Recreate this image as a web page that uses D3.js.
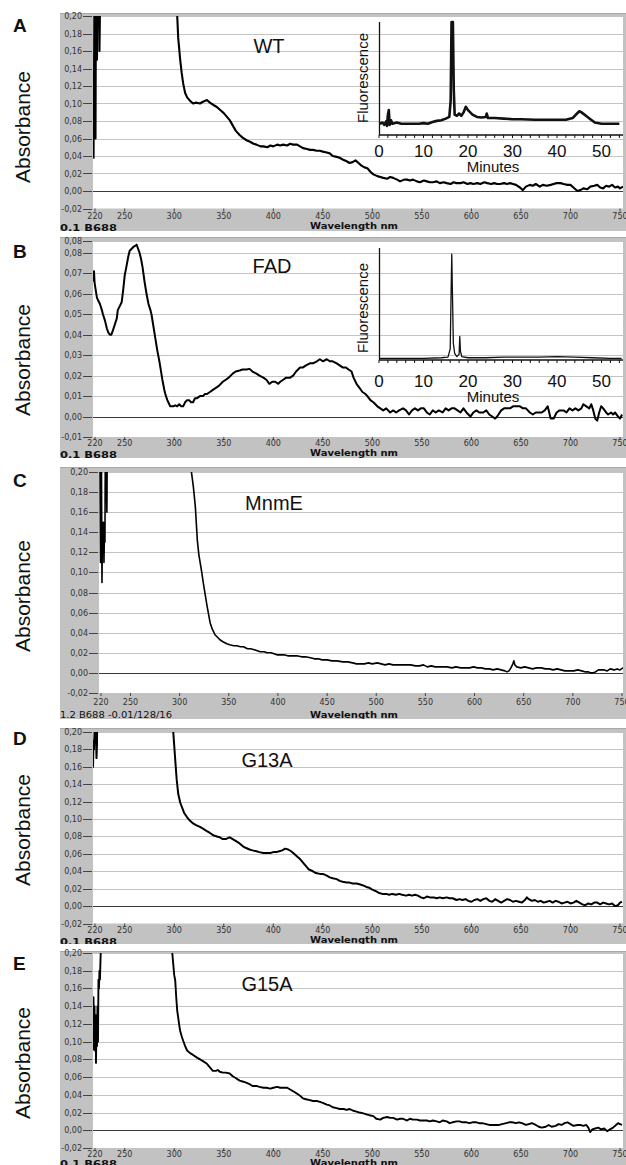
<!DOCTYPE html>
<html lang="en">
<head>
<meta charset="UTF-8">
<title>Absorbance spectra</title>
<script src="https://d3js.org/d3.v7.min.js"></script>
<style>
    body{ margin:0; background:#fff; }
    svg text{ font-family:"Liberation Sans", Arial, sans-serif; }
    .tick-lbl{ font-family:"DejaVu Sans", sans-serif !important; font-size:8px; fill:#333; }
    .foot{ font-family:"DejaVu Sans", sans-serif !important; font-size:8.5px; fill:#111; }
    path.spec{ fill:none; stroke:#000; stroke-linejoin:round; }
    path.hplc{ fill:none; stroke:#111; stroke-linejoin:round; }
</style>
</head>
<body>
<svg width="626" height="1165"></svg>
<script>
// ---- data (wavelength nm, absorbance) ----
const wtSpectrum = [[218.5,0.037],[219,0.12],[219.5,0.25],[220.5,0.06],[221,0.25],[222,0.15],[222.5,0.25],[224,0.25],[224.5,0.16],[225.5,0.25],
 [230,0.3],[260,0.4],[290,0.35],[302,0.22],[303,0.20],[304,0.175],[306,0.15],[307.5,0.135],[309,0.123],[311,0.112],[313,0.107],[316,0.103],[319,0.100],[322,0.101],[326,0.100],[329,0.102],[333,0.104],[336,0.101],[340,0.098],[343,0.096],[347,0.092],[350,0.089],[353,0.085],[356,0.081],[359,0.075],[362,0.069],[366,0.064],[369,0.061],[373,0.058],[377,0.056],[380,0.054],[383,0.053],[387,0.051],[390,0.051],[394,0.050],[397,0.052],[400,0.051],[404,0.053],[407,0.052],[410,0.053],[414,0.052],[417,0.054],[420,0.053],[424,0.053],[427,0.051],[430,0.049],[434,0.048],[437,0.047],[440,0.047],[444,0.046],[447,0.046],[450,0.045],[454,0.044],[457,0.043],[460,0.040],[464,0.039],[467,0.038],[470,0.036],[474,0.034],[477,0.032],[480,0.033],[483,0.035],[486,0.032],[489,0.029],[492,0.027],[495,0.026],[498,0.022],[501,0.019],[505,0.017],[508,0.016],[511,0.015],[515,0.014],[518,0.016],[521,0.015],[525,0.013],[528,0.011],[532,0.013],[535,0.013],[538,0.012],[541,0.013],[545,0.011],[548,0.010],[552,0.012],[555,0.011],[558,0.010],[561,0.010],[565,0.011],[568,0.009],[572,0.010],[575,0.009],[579,0.008],[582,0.010],[585,0.009],[589,0.009],[592,0.010],[596,0.008],[599,0.009],[602,0.008],[606,0.009],[609,0.008],[613,0.010],[616,0.009],[620,0.008],[623,0.009],[626,0.008],[629,0.008],[633,0.009],[636,0.008],[639,0.009],[642,0.008],[645,0.007],[649,0.004],[652,0.001],[655,0.005],[659,0.007],[662,0.006],[665,0.008],[669,0.005],[672,0.007],[676,0.006],[680,0.007],[683,0.008],[686,0.009],[690,0.009],[693,0.008],[697,0.007],[700,0.007],[703,0.004],[707,0.000],[710,0.001],[713,0.003],[717,0.002],[720,0.005],[724,0.006],[727,0.007],[730,0.004],[733,0.003],[736,0.006],[739,0.005],[742,0.007],[745,0.004],[748,0.005],[750,0.003],[753,0.005]];

const fadSpectrum = [[218,0.066],[219,0.071],[219.5,0.066],[220,0.064],[222,0.058],[224,0.056],[225,0.055],[227,0.052],[228,0.050],[230,0.047],[232,0.043],[233.5,0.041],[235,0.040],[236.5,0.040],[238,0.042],[240,0.045],[242,0.048],[243,0.052],[245,0.054],[247,0.056],[248.5,0.062],[250,0.069],[252,0.074],[253.5,0.078],[255,0.081],[257,0.082],[259,0.083],[261,0.0835],[262,0.084],[263.5,0.082],[265,0.080],[266.5,0.077],[268,0.073],[270,0.066],[272,0.060],[274,0.055],[276,0.052],[277,0.050],[279,0.044],[281,0.038],[283,0.032],[285,0.027],[286,0.024],[288,0.018],[290,0.013],[291,0.011],[293,0.008],[295,0.006],[296,0.005],[299,0.005],[301,0.0055],[303,0.005],[305,0.006],[307,0.005],[309,0.005],[311,0.007],[313,0.008],[315,0.008],[317,0.007],[319,0.007],[321,0.009],[323,0.009],[326,0.010],[329,0.010],[331,0.011],[333,0.011],[336,0.012],[339,0.013],[342,0.014],[345,0.015],[349,0.017],[352,0.018],[355,0.019],[359,0.021],[362,0.022],[366,0.0225],[369,0.023],[373,0.023],[376,0.0233],[379,0.022],[383,0.021],[386,0.020],[390,0.019],[393,0.018],[396,0.016],[399,0.017],[402,0.017],[405,0.016],[407,0.017],[410,0.018],[413,0.019],[417,0.019],[420,0.020],[423,0.022],[427,0.024],[430,0.024],[433,0.025],[437,0.026],[440,0.026],[444,0.027],[447,0.028],[450,0.027],[454,0.028],[457,0.027],[460,0.027],[464,0.026],[467,0.025],[470,0.024],[473,0.024],[476,0.023],[479,0.022],[481,0.019],[484,0.016],[487,0.014],[490,0.012],[493,0.011],[495,0.010],[498,0.008],[501,0.007],[505,0.005],[508,0.004],[511,0.003],[514,0.004],[518,0.002],[521,0.003],[524,0.002],[527,0.003],[531,0.004],[534,0.003],[537,0.001],[540,0.003],[543,0.004],[546,0.003],[549,0.004],[552,0.004],[555,0.002],[558,0.001],[561,0.003],[564,0.002],[567,0.003],[571,0.002],[574,0.004],[577,0.003],[580,0.004],[583,0.004],[586,0.003],[589,0.002],[592,0.004],[595,0.002],[599,0.000],[602,0.002],[605,0.003],[608,0.002],[612,0.002],[615,0.003],[618,0.001],[621,0.000],[624,-0.001],[626,0.000],[630,0.003],[633,0.004],[636,0.004],[639,0.004],[642,0.005],[646,0.005],[649,0.005],[652,0.004],[655,0.004],[659,0.002],[662,0.001],[665,0.002],[668,0.002],[671,0.002],[674,0.003],[677,0.005],[680,-0.001],[683,-0.001],[686,0.002],[689,0.003],[693,0.003],[696,0.002],[699,0.004],[702,0.003],[705,0.004],[708,0.003],[711,0.004],[713,0.006],[716,0.005],[719,0.004],[721,0.006],[723,0.003],[725,-0.001],[727,-0.002],[729,0.002],[731,0.005],[733,0.004],[736,0.002],[738,0.001],[741,0.002],[743,0.001],[745,0.002],[748,0.000],[750,-0.001],[752,0.001]];

const mnmeSpectrum = [[218,0.25],[219,0.20],[219.5,0.11],[220,0.13],[220.5,0.20],[221,0.09],[221.5,0.15],[222,0.12],[222.5,0.15],[223,0.11],[223.5,0.14],[224,0.13],[224.5,0.25],[226,0.16],[226.5,0.25],[230,0.3],[300,0.4],[310,0.25],[312,0.20],[314,0.185],[316,0.165],[318,0.132],[319.5,0.118],[321,0.109],[322.5,0.100],[324,0.090],[326,0.078],[328,0.066],[329.5,0.058],[331,0.050],[333,0.044],[336,0.038],[339,0.035],[341,0.033],[344,0.031],[348,0.029],[351,0.028],[355,0.027],[358,0.027],[362,0.026],[365,0.026],[369,0.024],[372,0.024],[376,0.023],[379,0.022],[382,0.021],[386,0.021],[389,0.020],[393,0.020],[396,0.019],[399,0.018],[403,0.018],[406,0.018],[410,0.017],[415,0.017],[419,0.017],[424,0.016],[428,0.016],[433,0.015],[437,0.014],[441,0.014],[445,0.013],[450,0.013],[455,0.012],[460,0.012],[466,0.011],[471,0.011],[476,0.010],[480,0.009],[484,0.009],[488,0.009],[492,0.010],[496,0.009],[501,0.010],[505,0.009],[509,0.008],[513,0.009],[517,0.008],[521,0.008],[525,0.008],[530,0.008],[535,0.008],[540,0.007],[544,0.007],[548,0.008],[552,0.006],[556,0.007],[560,0.006],[564,0.006],[568,0.006],[572,0.006],[577,0.005],[581,0.006],[586,0.005],[590,0.005],[595,0.005],[599,0.006],[603,0.005],[607,0.005],[611,0.004],[615,0.004],[619,0.003],[623,0.004],[627,0.003],[631,0.002],[633,0.001],[635,0.002],[637,0.005],[639,0.009],[640,0.012],[641,0.008],[643,0.006],[647,0.005],[651,0.006],[655,0.005],[659,0.004],[663,0.005],[668,0.005],[672,0.004],[676,0.004],[680,0.003],[684,0.004],[688,0.003],[692,0.002],[697,0.002],[701,0.002],[705,0.003],[709,0.002],[713,0.001],[716,0.001],[718,0.000],[720,0.000],[723,0.001],[726,0.003],[729,0.003],[732,0.003],[735,0.002],[738,0.004],[742,0.003],[745,0.004],[748,0.003],[751,0.005],[753,0.006]];

const g13aSpectrum = [[218,0.159],[218.5,0.19],[219,0.18],[219.5,0.20],[220,0.19],[221,0.20],[221.5,0.17],[222,0.185],[222.5,0.25],[226,0.3],[290,0.4],[297,0.25],[299,0.20],[301,0.168],[302.5,0.145],[304,0.129],[306,0.119],[308,0.113],[310,0.107],[313,0.102],[316,0.098],[319,0.095],[322,0.093],[326,0.091],[329,0.089],[333,0.086],[336,0.084],[340,0.081],[343,0.080],[346,0.079],[349,0.077],[352,0.077],[354,0.078],[356,0.079],[359,0.077],[362,0.075],[366,0.072],[369,0.069],[372,0.067],[376,0.065],[379,0.064],[383,0.063],[386,0.062],[390,0.061],[393,0.061],[397,0.061],[400,0.062],[403,0.062],[406,0.063],[409,0.064],[412,0.066],[415,0.065],[418,0.063],[421,0.060],[424,0.057],[427,0.054],[430,0.050],[433,0.046],[436,0.042],[440,0.040],[443,0.038],[447,0.037],[450,0.037],[454,0.035],[457,0.033],[460,0.032],[464,0.031],[467,0.029],[470,0.028],[474,0.027],[477,0.027],[480,0.026],[484,0.026],[487,0.025],[490,0.024],[494,0.022],[497,0.021],[500,0.019],[504,0.017],[507,0.015],[510,0.014],[514,0.014],[517,0.013],[520,0.014],[524,0.013],[527,0.014],[530,0.013],[534,0.012],[537,0.013],[540,0.012],[543,0.013],[546,0.012],[549,0.010],[552,0.009],[555,0.011],[558,0.010],[562,0.010],[565,0.009],[568,0.010],[571,0.009],[575,0.010],[578,0.009],[581,0.009],[585,0.007],[588,0.008],[591,0.007],[594,0.008],[597,0.006],[600,0.005],[603,0.007],[606,0.008],[609,0.006],[612,0.008],[615,0.009],[618,0.006],[621,0.005],[624,0.008],[627,0.006],[630,0.004],[633,0.006],[636,0.008],[639,0.007],[642,0.005],[645,0.006],[648,0.005],[651,0.004],[654,0.007],[656,0.010],[658,0.008],[661,0.006],[664,0.007],[667,0.005],[670,0.006],[673,0.004],[676,0.005],[679,0.006],[682,0.004],[685,0.006],[688,0.005],[691,0.003],[694,0.004],[697,0.005],[700,0.003],[703,0.004],[706,0.006],[709,0.004],[712,0.002],[715,0.001],[718,0.003],[721,0.002],[724,0.004],[727,0.004],[730,0.002],[733,0.004],[736,0.003],[739,0.002],[742,0.003],[745,0.000],[748,0.001],[750,0.004],[752,0.005]];

const g15aSpectrum = [[218,0.09],[218.5,0.15],[219,0.10],[219.5,0.14],[220,0.09],[220.5,0.13],[221,0.076],[221.5,0.12],[222,0.095],[222.5,0.14],[223,0.10],[223.5,0.17],[224,0.16],[224.5,0.18],[225,0.17],[226,0.21],[230,0.3],[290,0.4],[296,0.25],[298,0.20],[300,0.175],[301,0.169],[302,0.150],[303,0.135],[305,0.119],[306,0.112],[307.5,0.106],[309,0.101],[311,0.095],[313,0.090],[316,0.087],[319,0.085],[323,0.082],[326,0.080],[329,0.078],[333,0.075],[336,0.071],[339,0.067],[342,0.067],[344,0.068],[346,0.066],[349,0.065],[352,0.065],[356,0.064],[359,0.061],[362,0.059],[366,0.056],[369,0.055],[372,0.054],[376,0.052],[379,0.050],[383,0.050],[386,0.049],[390,0.048],[393,0.048],[397,0.047],[400,0.048],[404,0.049],[407,0.048],[410,0.048],[414,0.048],[417,0.046],[420,0.044],[423,0.042],[427,0.039],[430,0.036],[433,0.035],[437,0.034],[440,0.033],[444,0.033],[447,0.032],[450,0.031],[454,0.029],[457,0.028],[460,0.026],[464,0.025],[467,0.024],[471,0.024],[474,0.023],[477,0.024],[481,0.022],[484,0.021],[487,0.020],[491,0.019],[494,0.018],[497,0.017],[501,0.016],[504,0.013],[508,0.012],[511,0.014],[515,0.015],[518,0.014],[521,0.014],[525,0.012],[528,0.013],[531,0.013],[535,0.011],[538,0.013],[541,0.012],[545,0.012],[548,0.011],[551,0.011],[555,0.011],[558,0.010],[561,0.011],[565,0.010],[568,0.009],[571,0.011],[575,0.010],[578,0.008],[581,0.009],[585,0.010],[588,0.010],[591,0.009],[595,0.009],[598,0.008],[601,0.009],[605,0.009],[608,0.008],[611,0.008],[615,0.007],[618,0.006],[621,0.006],[625,0.006],[628,0.006],[631,0.007],[635,0.008],[638,0.009],[641,0.009],[645,0.008],[648,0.009],[651,0.008],[655,0.006],[658,0.007],[661,0.008],[665,0.006],[668,0.004],[671,0.003],[675,0.004],[678,0.006],[681,0.004],[685,0.005],[688,0.007],[691,0.006],[694,0.008],[697,0.009],[700,0.007],[703,0.005],[707,0.006],[710,0.006],[713,0.005],[716,0.006],[718,0.003],[720,-0.002],[722,0.001],[725,0.002],[728,0.003],[731,0.001],[734,0.002],[737,-0.001],[740,0.001],[743,0.003],[746,0.006],[748,0.008],[750,0.007],[752,0.006]];

// HPLC insets (minutes, relative fluorescence)
const wtHplc = [[0.2,10],[0.8,11],[1.2,9],[1.6,12],[1.8,8],[2.0,18],[2.2,22],[2.4,9],[2.7,13],[3,10],[4,11],[5,10],[6,10],[7,10],[8,10],[9,10],[10,10.5],[11,10],[12,11.5],[13,12.5],[14,13],[15,14.5],[15.8,16],[16.1,30],[16.3,100],[16.6,100],[16.8,40],[17,18],[17.5,17],[18,19],[18.5,17],[19,20],[19.5,25],[20,22],[20.5,20],[21,18],[22,16],[23,15.5],[24,16],[24.2,19],[24.5,15],[25,15],[26,15],[28,14.5],[30,14],[32,14],[35,13.5],[38,13.5],[40,13.5],[42,13.5],[43.5,15],[44.5,19],[45,21],[45.5,20],[46.5,17],[47.5,14],[48.5,11],[50,10],[52,10],[54,10]];
const fadHplc = [[0,1.5],[5,1.5],[10,1.5],[14,2],[15.5,2.5],[16,10],[16.2,60],[16.35,94.5],[16.5,60],[16.7,15],[17,6],[17.5,3],[18,5],[18.15,21],[18.3,8],[18.6,3],[20,2],[24,2],[28,2.5],[32,2.5],[36,2.5],[40,3],[44,2.5],[48,2],[52,1.5],[54.5,1.5]];

// ticks and labels
const xTicks = [220,250,300,350,400,450,500,550,600,650,700,750];
const yTicks = [0.20,0.18,0.16,0.14,0.12,0.10,0.08,0.06,0.04,0.02,0.00,-0.02];
const yTickLabels = ["0,20","0,18","0,16","0,14","0,12","0,10","0,08","0,06","0,04","0,02","0,00","-0,02"];
const yTicksFad = [0.0858,0.08,0.07,0.06,0.05,0.04,0.03,0.02,0.01,0.00,-0.01];
const yTickLabelsFad = ["0,08","0,08","0,07","0,06","0,05","0,04","0,03","0,02","0,01","0,00","-0,01"];
const hplcTicks = [0,10,20,30,40,50];
const hplcMinor = d3.range(0, 55, 2);
const panelLetters = ["A","B","C","D","E"];
const sampleNames = ["WT","FAD","MnmE","G13A","G15A"];
const footers = ["0.1 B688","0.1 B688","1.2 B688 -0.01/128/16","0.1 B688","0.1 B688"];

// ---- layout ----
const panels = [
  {spec:wtSpectrum,   yDom:[-0.02,0.20],  ticks:yTicks,    labels:yTickLabels,    fTop:13,  yTop:16,  yBot:208.5, fBot:231,  lblY:219,   wlY:229,  footY:231,  left:93, x0:95,  x1:620, nameX:269, nameY:53,  letterY:32,  absY:127,  sw:2.1},
  {spec:fadSpectrum,  yDom:[-0.01,0.0858],ticks:yTicksFad, labels:yTickLabelsFad, fTop:237, yTop:241, yBot:437,   fBot:458,  lblY:445.5, wlY:456,  footY:458,  left:93, x0:95,  x1:620, nameX:272, nameY:273, letterY:258, absY:360,  sw:2.0},
  {spec:mnmeSpectrum, yDom:[-0.02,0.20],  ticks:yTicks,    labels:yTickLabels,    fTop:467, yTop:472, yBot:693,   fBot:719,  lblY:705,   wlY:717.5,footY:717.5,left:99, x0:101, x1:622, nameX:274, nameY:510, letterY:487, absY:596,  sw:1.6},
  {spec:g13aSpectrum, yDom:[-0.02,0.20],  ticks:yTicks,    labels:yTickLabels,    fTop:728, yTop:732, yBot:923.5, fBot:944,  lblY:932.5, wlY:943,  footY:945,  left:93, x0:95,  x1:620, nameX:267, nameY:767, letterY:745, absY:830,  sw:2.0},
  {spec:g15aSpectrum, yDom:[-0.02,0.20],  ticks:yTicks,    labels:yTickLabels,    fTop:951, yTop:953, yBot:1148,  fBot:1165, lblY:1157,  wlY:1166, footY:1167, left:93, x0:95,  x1:620, nameX:267, nameY:991, letterY:970, absY:1063, sw:1.9}
];
const insets = [
  {panel:0, data:wtHplc,  axisY:135, topY:22,  lblY:157, minY:171.5, fluY:78,  sw:2.6},
  {panel:1, data:fadHplc, axisY:360, topY:248, lblY:387, minY:402,   fluY:308, sw:1.3}
];
const plotRight = 623;

const svg = d3.select('svg');

panels.forEach(function(p, i){
    let g = svg.append('g');
    let x = d3.scaleLinear().domain([220,750]).range([p.x0,p.x1]);
    let y = d3.scaleLinear().domain(p.yDom).range([p.yBot,p.yTop]);

    // grey instrument frame
    g.append('rect').attr('x',60).attr('y',p.fTop).attr('width',566).attr('height',p.fBot-p.fTop)
        .attr('fill','#c2c2c2');
    g.append('line').attr('x1',60).attr('x2',626).attr('y1',p.fTop+0.5).attr('y2',p.fTop+0.5)
        .attr('stroke','#a9a9a9');
    g.append('rect').attr('x',p.left).attr('y',p.yTop).attr('width',plotRight-p.left).attr('height',p.yBot-p.yTop)
        .attr('fill','#fff');

    let clipId = 'clip'+i, frameClip = 'fclip'+i;
    svg.append('clipPath').attr('id',clipId).append('rect')
        .attr('x',p.left).attr('y',p.yTop).attr('width',plotRight-p.left).attr('height',p.yBot-p.yTop);
    svg.append('clipPath').attr('id',frameClip).append('rect')
        .attr('x',60).attr('y',p.fTop).attr('width',566).attr('height',p.fBot-p.fTop);

    // horizontal grid
    g.selectAll('line.grid').data(p.ticks).join('line').attr('class','grid')
        .attr('x1',p.left).attr('x2',plotRight)
        .attr('y1',d=>Math.round(y(d))+0.5).attr('y2',d=>Math.round(y(d))+0.5)
        .attr('stroke',d=>d===0?'#3a3a3a':'#c4c4c4').attr('stroke-width',1);

    // y axis ticks and labels
    g.selectAll('line.ytk').data(p.ticks).join('line').attr('class','ytk')
        .attr('x1',p.left-10).attr('x2',p.left-1)
        .attr('y1',d=>Math.round(y(d))+0.5).attr('y2',d=>Math.round(y(d))+0.5)
        .attr('stroke','#444');
    g.selectAll('text.ylbl').data(p.ticks).join('text').attr('class','tick-lbl ylbl')
        .attr('x',p.left-11).attr('y',d=>y(d)+3).attr('text-anchor','end')
        .text((d,k)=>p.labels[k]);

    // x axis ticks and labels
    g.selectAll('line.xtk').data(xTicks).join('line').attr('class','xtk')
        .attr('x1',d=>x(d)).attr('x2',d=>x(d)).attr('y1',p.yBot).attr('y2',p.yBot+3)
        .attr('stroke','#444');
    g.selectAll('text.xlbl').data(xTicks).join('text').attr('class','tick-lbl xlbl')
        .attr('x',d=>x(d)).attr('y',p.lblY).attr('text-anchor','middle')
        .text(d=>d);

    let ft = g.append('g').attr('clip-path','url(#'+frameClip+')');
    ft.append('text').attr('class','foot').attr('x',60).attr('y',p.footY)
        .attr('font-weight',i===2?'normal':'bold')
        .attr('textLength',i===2?112:57).attr('lengthAdjust','spacingAndGlyphs')
        .text(footers[i]);
    ft.append('text').attr('class','foot').attr('x',310).attr('y',p.wlY)
        .attr('font-weight','bold').attr('textLength',88).attr('lengthAdjust','spacingAndGlyphs')
        .text('Wavelength nm');

    // spectrum
    let line = d3.line().x(d=>x(d[0])).y(d=>y(d[1]));
    g.append('path').attr('class','spec').attr('clip-path','url(#'+clipId+')')
        .attr('d',line(p.spec)).attr('stroke-width',p.sw);

    // labels
    svg.append('text').attr('x',p.nameX).attr('y',p.nameY).attr('text-anchor','middle')
        .attr('font-size',20).attr('fill','#111').text(sampleNames[i]);
    svg.append('text').attr('x',13).attr('y',p.letterY)
        .attr('font-size',19).attr('font-weight','bold').attr('fill','#111').text(panelLetters[i]);
    svg.append('text').attr('transform','translate(30,'+p.absY+') rotate(-90)')
        .attr('text-anchor','middle').attr('font-size',21).attr('fill','#111')
        .text('Absorbance');
});

// HPLC insets
insets.forEach(function(s){
    let g = svg.append('g');
    let x = d3.scaleLinear().domain([0,54.6]).range([379,622]);
    let y = d3.scaleLinear().domain([0,100]).range([s.axisY,s.topY]);

    g.append('line').attr('x1',379.5).attr('x2',379.5).attr('y1',s.topY).attr('y2',s.axisY)
        .attr('stroke','#111').attr('stroke-width',1.3);
    g.append('line').attr('x1',379).attr('x2',623).attr('y1',s.axisY).attr('y2',s.axisY)
        .attr('stroke','#111').attr('stroke-width',1.3);
    g.selectAll('line.mt').data(hplcMinor).join('line').attr('class','mt')
        .attr('x1',d=>x(d)).attr('x2',d=>x(d)).attr('y1',s.axisY).attr('y2',s.axisY+3)
        .attr('stroke','#111');
    g.selectAll('text.hl').data(hplcTicks).join('text').attr('class','hl')
        .attr('x',d=>x(d)).attr('y',s.lblY).attr('text-anchor','middle')
        .attr('font-size',17).attr('fill','#111').text(d=>d);
    g.append('text').attr('x',493).attr('y',s.minY).attr('text-anchor','middle')
        .attr('font-size',15).attr('fill','#111').text('Minutes');
    g.append('text').attr('transform','translate(368,'+s.fluY+') rotate(-90)')
        .attr('text-anchor','middle').attr('font-size',15).attr('fill','#111')
        .text('Fluorescence');

    let line = d3.line().x(d=>x(d[0])).y(d=>y(d[1]));
    g.append('path').attr('class','hplc').attr('d',line(s.data)).attr('stroke-width',s.sw);
});
</script>
</body>
</html>
